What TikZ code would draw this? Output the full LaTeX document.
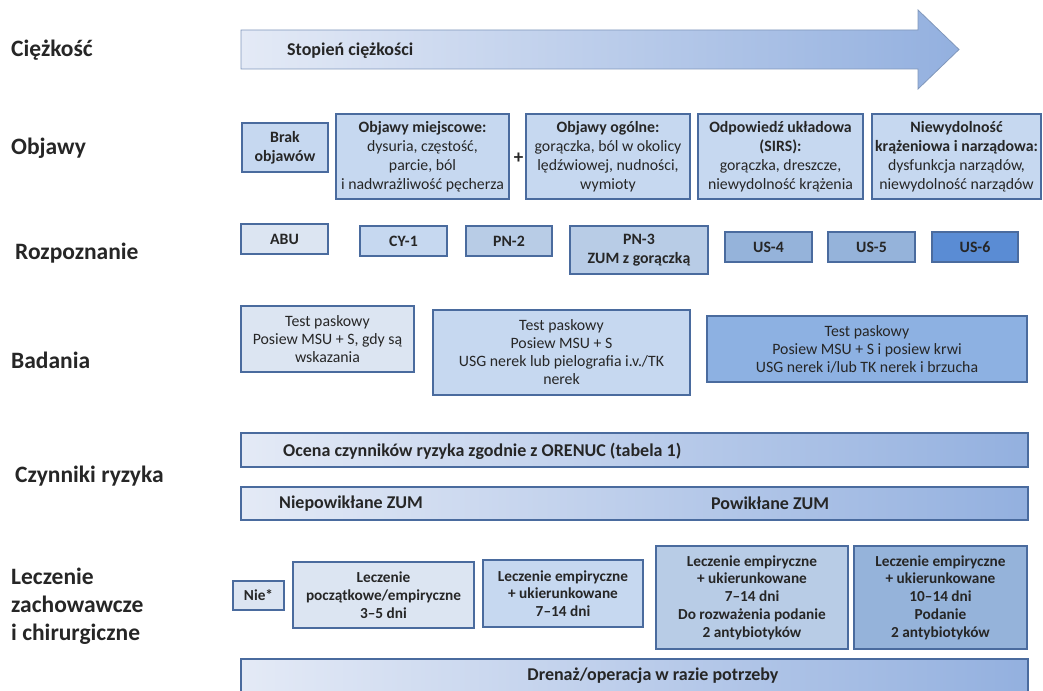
\documentclass[tikz,border=0pt]{standalone}
\usepackage{fontspec}
\setmainfont{Carlito}
\usetikzlibrary{calc}

\definecolor{rim}{HTML}{4A6B9E}
\definecolor{ink}{HTML}{262626}
\definecolor{pale}{HTML}{DCE5F2}
\definecolor{light}{HTML}{C6D8F0}
\definecolor{mid}{HTML}{B8CCE6}
\definecolor{deep}{HTML}{95B3DA}
\definecolor{deeper}{HTML}{8DB1E2}
\definecolor{strong}{HTML}{5A8CD4}
\definecolor{barl}{HTML}{E4EAF6}
\definecolor{barr}{HTML}{93B0DF}

\begin{document}
\begin{tikzpicture}[x=1pt,y=-1pt,
  rowname/.style={anchor=west,align=left,inner sep=0pt,text=ink,font=\fontsize{23.5}{28}\selectfont\bfseries},
  box/.style={draw=rim,line width=1.2pt,fill=#1,align=center,inner sep=0pt,text=ink,font=\fontsize{15.8}{19}\selectfont},
  treat/.style={font=\fontsize{15.3}{17.7}\selectfont\bfseries},
  bar/.style={left color=barl,right color=barr,draw=rim,line width=1.2pt},
  bartext/.style={anchor=west,inner sep=0pt,text=ink,font=\fontsize{18}{20}\selectfont\bfseries}]
  % Boundary
  \path[use as bounding box] (0,0) rectangle (1043,690);
  \clip (0,0) rectangle (1043,690);
  % Row names
  \node[rowname] (ciez) at (11,50) {Ciężkość};
  \node[rowname] (obj) at (11,148) {Objawy};
  \node[rowname] (rozp) at (15,253) {Rozpoznanie};
  \node[rowname] (bad) at (11,360) {Badania};
  \node[rowname] (czyn) at (15,476) {Czynniki ryzyka};
  \node[rowname] (lecz) at (11,606) {Leczenie\\zachowawcze\\i chirurgiczne};
  % Severity arrow
  \path[bar,draw=rim!70,line width=0.8pt] (241,30) -- (918,30) -- (918,10) -- (959,49.5) -- (918,89) -- (918,69) -- (241,69) -- cycle;
  \node[bartext] (stop) at (287,51) {Stopień ciężkości};
  % Symptoms
  \node[box=light,minimum width=86,minimum height=49] (brak) at (285,147.5) {\textbf{Brak}\\\textbf{objawów}};
  \node[box=light,minimum width=173,minimum height=85] (miej) at (422.5,156.5) {\textbf{Objawy miejscowe:}\\dysuria, częstość,\\parcie, ból\\ i nadwrażliwość pęcherza};
  \node[inner sep=0pt,text=ink,font=\fontsize{19}{20}\selectfont\bfseries] (plus) at (518.5,158) {+};
  \node[box=light,minimum width=164,minimum height=85] (ogol) at (608,156.5) {\textbf{Objawy ogólne:}\\gorączka, ból w okolicy\\lędźwiowej, nudności,\\wymioty};
  \node[box=light,minimum width=165,minimum height=85] (sirs) at (780.5,156.5) {\textbf{Odpowiedź układowa}\\\textbf{(SIRS):}\\gorączka, dreszcze,\\niewydolność krążenia};
  \node[box=light,minimum width=169,minimum height=85] (niew) at (956.5,156.5) {\textbf{Niewydolność}\\\textbf{krążeniowa i narządowa:}\\dysfunkcja narządów,\\niewydolność narządów};
  % Diagnosis
  \node[box=pale,minimum width=87,minimum height=30] (abu) at (284.5,239) {\textbf{ABU}};
  \node[box=light,minimum width=87,minimum height=30] (cy) at (403.5,241) {\textbf{CY-1}};
  \node[box=mid,minimum width=86,minimum height=30] (pnb) at (509,241) {\textbf{PN-2}};
  \node[box=mid,minimum width=138,minimum height=48] (pnc) at (639,250) {\textbf{PN-3}\\\textbf{ZUM z gorączką}};
  \node[box=deep,minimum width=87,minimum height=30] (usd) at (768.5,247) {\textbf{US-4}};
  \node[box=deep,minimum width=87,minimum height=30] (use) at (871.5,247) {\textbf{US-5}};
  \node[box=strong,minimum width=86,minimum height=30] (usf) at (975,247) {\textbf{US-6}};
  % Tests
  \node[box=pale,minimum width=173,minimum height=66,font=\fontsize{15.8}{18}\selectfont] (bada) at (327.5,339) {Test paskowy\\Posiew MSU + S, gdy są\\wskazania};
  \node[box=light,minimum width=257,minimum height=85,font=\fontsize{15.8}{18}\selectfont] (badb) at (561.5,352.5) {Test paskowy\\Posiew MSU + S\\USG nerek lub pielografia i.v./TK\\nerek};
  \node[box=deeper,minimum width=320,minimum height=66,font=\fontsize{15.8}{18}\selectfont] (badc) at (867,349) {Test paskowy\\Posiew MSU + S i posiew krwi\\USG nerek i/lub TK nerek i brzucha};
  % Risk factors
  \path[bar] (241,433) rectangle (1028,467);
  \node[bartext] (ocena) at (283,451) {Ocena czynników ryzyka zgodnie z ORENUC (tabela 1)};
  \path[bar] (241,487) rectangle (1028,520);
  \node[bartext] (niepow) at (279,503.5) {Niepowikłane ZUM};
  \node[bartext] (pow) at (711,503.5) {Powikłane ZUM};
  % Treatment
  \node[box=pale,treat,minimum width=51,minimum height=29] (nie) at (258.5,595.5) {Nie*};
  \node[box=pale,treat,minimum width=181,minimum height=66] (pocz) at (383.5,595) {Leczenie\\początkowe/empiryczne\\3–5 dni};
  \node[box=light,treat,minimum width=160,minimum height=67] (empa) at (563,593.5) {Leczenie empiryczne\\+ ukierunkowane\\7–14 dni};
  \node[box=mid,treat,minimum width=192,minimum height=103] (empb) at (752,597.5) {Leczenie empiryczne\\+ ukierunkowane\\7–14 dni\\Do rozważenia podanie\\2 antybiotyków};
  \node[box=deep,treat,minimum width=173,minimum height=103] (empc) at (940.5,597.5) {Leczenie empiryczne\\+ ukierunkowane\\10–14 dni\\Podanie\\2 antybiotyków};
  \path[bar] (241,659) rectangle (1028,705);
  \node[bartext,anchor=center] (dren) at (653,676) {Drenaż/operacja w razie potrzeby};
\end{tikzpicture}
\end{document}
